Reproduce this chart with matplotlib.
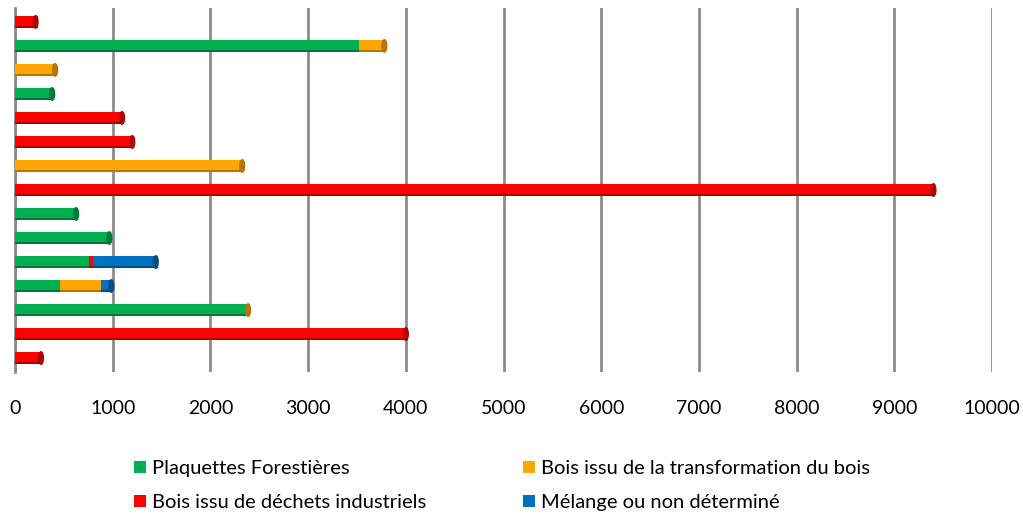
import matplotlib.pyplot as plt
import numpy as np
from matplotlib.patches import Ellipse

# tonnages par chaufferie, haut -> bas
plaquettes = [0, 3520, 0, 400, 0, 0, 0, 0, 645, 985, 760, 460, 2375, 0, 0]
transformation = [0, 280, 430, 0, 0, 0, 2345, 0, 0, 0, 0, 420, 30, 0, 0]
dechets = [230, 0, 0, 0, 1115, 1220, 0, 9420, 0, 0, 40, 0, 0, 4020, 285]
melange = [0, 0, 0, 0, 0, 0, 0, 0, 0, 0, 660, 125, 0, 0, 0]

series = [
    ("Plaquettes Forestières", plaquettes, "#00B050", "#007a38"),
    ("Bois issu de la transformation du bois", transformation, "#FFA500", "#b87400"),
    ("Bois issu de déchets industriels", dechets, "#FF0000", "#b00000"),
    ("Mélange ou non déterminé", melange, "#0070C0", "#004c85"),
]
ticks = np.arange(0, 10001, 1000)

plt.rcParams['font.family'] = ['Lato', 'DejaVu Sans']
fig = plt.figure(figsize=(10.23, 5.15), dpi=100)
ax = fig.add_axes([0.0147, 0.2777, 0.955, 0.7068])

y = np.arange(len(plaquettes))
left = np.zeros(len(y))
handles = {}
for name, vals, col, dark in series:
    vals = np.asarray(vals, dtype=float)
    # corps du cylindre : ombre dessous, couleur pleine, reflet
    ax.barh(y, vals, left=left, height=0.52, color=dark, zorder=3)
    h = ax.barh(y - 0.04, vals, left=left, height=0.40, color=col, zorder=4)
    ax.barh(y - 0.12, vals, left=left, height=0.08, color=col, alpha=0.6, zorder=5)
    handles[name] = h
    left += vals

# extrémité arrondie des barres
for yi, tot in zip(y, left):
    last = [s for s in series if s[1][yi] > 0][-1]
    ax.add_patch(Ellipse((tot - 20, yi), 50, 0.52, color=last[3], zorder=6))

ax.set_xlim(0, 10000)
ax.set_ylim(14.58, -0.58)
ax.set_xticks(ticks)
ax.set_yticks([])
ax.xaxis.grid(True, color='#8c8c8c', linewidth=2, zorder=0)
ax.tick_params(axis='x', length=0, pad=20, labelsize=14)
for s in ['top', 'right', 'bottom']:
    ax.spines[s].set_visible(False)
ax.spines['left'].set_color('#8c8c8c')
ax.spines['left'].set_linewidth(2)

order = ["Plaquettes Forestières", "Bois issu de déchets industriels",
         "Bois issu de la transformation du bois", "Mélange ou non déterminé"]
fig.legend([handles[n] for n in order], order, ncol=2, loc='upper left',
           bbox_to_anchor=(0.113, 0.142), frameon=False, fontsize=14.5,
           handlelength=0.6, handleheight=0.6, handletextpad=0.3,
           columnspacing=4.8, labelspacing=0.85)

fig.savefig('out.png', dpi=100)
